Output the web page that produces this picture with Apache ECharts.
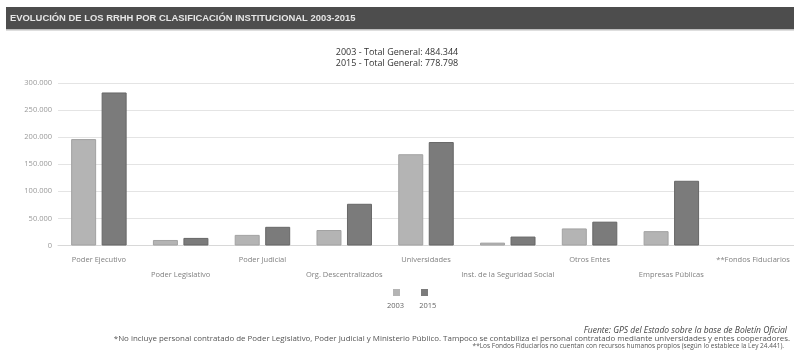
<!DOCTYPE html>
<html>
<head>
<meta charset="utf-8">
<script src="https://cdn.jsdelivr.net/npm/echarts@6/dist/echarts.min.js"></script>
<style>
  html, body { margin: 0; padding: 0; background: #fff; }
  #chart { width: 794px; height: 355px; }
</style>
</head>
<body>
<div id="chart"></div>
<script>
// Recursos humanos por clasificación institucional, 2003 vs 2015
const categories = [
  'Poder Ejecutivo', 'Poder Legislativo', 'Poder Judicial', 'Org. Descentralizados',
  'Universidades', 'Inst. de la Seguridad Social', 'Otros Entes', 'Empresas Públicas',
  '**Fondos Fiduciarios'
];
const seriesNames = ['2003', '2015'];
const values2003 = [196500, 10200, 19600, 28600, 168500, 5300, 31500, 26500, 0];
const values2015 = [282500, 14000, 34500, 77000, 191000, 16500, 44000, 119500, 0];
const yTicks = [0, 50000, 100000, 150000, 200000, 250000, 300000];

const titleText = 'EVOLUCIÓN DE LOS RRHH POR CLASIFICACIÓN INSTITUCIONAL 2003-2015';
const subtitleText = '2003 - Total General: 484.344\n2015 - Total General: 778.798';
const sourceText = 'Fuente: GPS del Estado sobre la base de Boletín Oficial';
const note1 = '*No incluye personal contratado de Poder Legislativo, Poder Judicial y Ministerio Público. Tampoco se contabiliza el personal contratado mediante universidades y entes cooperadores.';
const note2 = '**Los Fondos Fiduciarios no cuentan con recursos humanos propios (según lo establece la Ley 24.441).';

const fmtThousands = v => String(v).replace(/\B(?=(\d{3})+(?!\d))/g, '.');

const chart = echarts.init(document.getElementById('chart'), null, { renderer: 'canvas' });

const font = '"Open Sans", "Liberation Sans", sans-serif';
const colors = ['#b4b4b4', '#7b7b7b'];
const borders = ['#a2a2a2', '#676767'];

// empty categories get no outline, so nothing is drawn at zero
const barData = (vals, i) => vals.map(v => ({
  value: v,
  itemStyle: { color: colors[i], borderColor: borders[i], borderWidth: v > 0 ? 1 : 0 }
}));

chart.setOption({
  animation: false,
  backgroundColor: '#ffffff',
  textStyle: { fontFamily: font },
  title: [
    {
      text: subtitleText,
      left: 'center', top: 42,
      textStyle: { color: '#333', fontSize: 9, fontWeight: 'normal', lineHeight: 11, fontFamily: font }
    }
  ],
  graphic: [
    { type: 'rect', z: -1, shape: { x: 6, y: 7, width: 788, height: 22 }, style: { fill: '#4d4d4d' } },
    { type: 'rect', z: -1, shape: { x: 6, y: 29, width: 788, height: 1.5 }, style: { fill: '#bdbdbd' } },
    {
      type: 'text', x: 10, y: 18, scaleX: 0.99,
      style: { text: titleText, fill: '#e6e6e6', font: 'bold 9.5px "Liberation Sans", sans-serif', textAlign: 'left', textVerticalAlign: 'middle' }
    },
    {
      type: 'text', x: 787, y: 331,
      style: { text: sourceText, fill: '#444', font: 'italic 8.5px ' + font, textAlign: 'right', textVerticalAlign: 'middle' }
    },
    {
      type: 'text', x: 790, y: 339, scaleX: 1.22,
      style: { text: note1, fill: '#555', font: '6.5px ' + font, textAlign: 'right', textVerticalAlign: 'middle' }
    },
    {
      type: 'text', x: 784, y: 346.5,
      style: { text: note2, fill: '#555', font: '6.5px ' + font, textAlign: 'right', textVerticalAlign: 'middle' }
    }
  ],
  legend: [
    {
      data: seriesNames,
      left: 388, top: 284,
      itemWidth: 7, itemHeight: 7, itemGap: 21,
      icon: 'rect',
      formatter: () => '',
      textStyle: { fontSize: 8 }
    },
    {
      data: seriesNames,
      left: 377, top: 297,
      itemWidth: 0, itemHeight: 0, itemGap: 10,
      icon: 'rect',
      itemStyle: { opacity: 0 },
      textStyle: { color: '#666', fontSize: 7.5, fontFamily: font }
    }
  ],
  grid: { left: 58, right: 0, top: 83, bottom: 109.5, containLabel: false },
  xAxis: {
    type: 'category',
    data: categories,
    axisTick: { show: false },
    axisLine: { lineStyle: { color: '#d8d8d8' } },
    axisLabel: {
      interval: 0,
      color: '#808080',
      fontSize: 7.5,
      margin: 7,
      lineHeight: 15,
      formatter: (v, i) => (i % 2 ? '\n' + v : v)
    }
  },
  yAxis: {
    type: 'value',
    min: yTicks[0],
    max: yTicks[yTicks.length - 1],
    interval: yTicks[1] - yTicks[0],
    axisLine: { show: false },
    axisTick: { show: false },
    splitLine: { lineStyle: { color: '#e4e4e4', width: 1.2 } },
    axisLabel: {
      color: '#999', fontSize: 7.5, margin: 6,
      formatter: v => fmtThousands(v)
    }
  },
  series: [
    {
      name: seriesNames[0], type: 'bar', data: barData(values2003, 0),
      barWidth: 25, barGap: '22%',
      itemStyle: { color: colors[0], borderColor: borders[0] }
    },
    {
      name: seriesNames[1], type: 'bar', data: barData(values2015, 1),
      barWidth: 25, barGap: '22%',
      itemStyle: { color: colors[1], borderColor: borders[1] }
    }
  ]
});
</script>
</body>
</html>
